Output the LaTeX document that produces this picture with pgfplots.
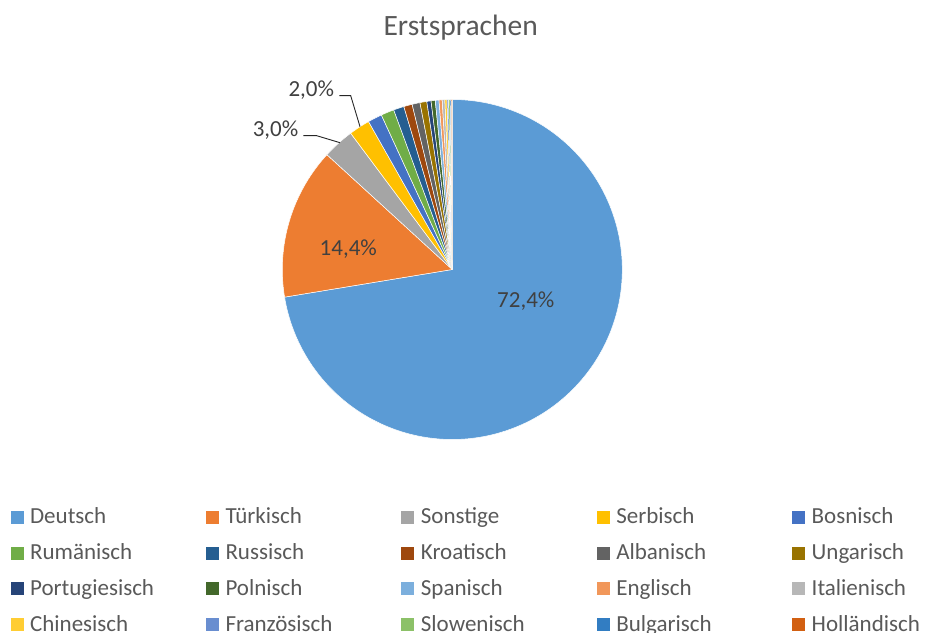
\documentclass[border=0pt]{standalone}
\usepackage{fontspec}
\setmainfont{Carlito}
\usepackage{pgfplots}
\pgfplotsset{compat=1.18}

\definecolor{cDeutsch}{HTML}{5B9BD5}
\definecolor{cTuerkisch}{HTML}{ED7D31}
\definecolor{cSonstige}{HTML}{A5A5A5}
\definecolor{cSerbisch}{HTML}{FFC000}
\definecolor{cBosnisch}{HTML}{4472C4}
\definecolor{cRumaenisch}{HTML}{70AD47}
\definecolor{cRussisch}{HTML}{255E91}
\definecolor{cKroatisch}{HTML}{9E480E}
\definecolor{cAlbanisch}{HTML}{636363}
\definecolor{cUngarisch}{HTML}{997300}
\definecolor{cPortugiesisch}{HTML}{264478}
\definecolor{cPolnisch}{HTML}{43682B}
\definecolor{cSpanisch}{HTML}{7CAFDD}
\definecolor{cEnglisch}{HTML}{F1975A}
\definecolor{cItalienisch}{HTML}{B7B7B7}
\definecolor{cChinesisch}{HTML}{FFCD33}
\definecolor{cFranzoesisch}{HTML}{698ED0}
\definecolor{cSlowenisch}{HTML}{8CC168}
\definecolor{cBulgarisch}{HTML}{327DC2}
\definecolor{cHollaendisch}{HTML}{D26012}
\definecolor{legtext}{HTML}{595959}
\definecolor{labtext}{HTML}{404040}

\newcommand\legfont{\fontsize{23pt}{27pt}\selectfont}
\newcommand\labfont{\fontsize{23pt}{27pt}\selectfont}
\newcommand\titfont{\fontsize{29.5pt}{33pt}\selectfont}

\gdef\cum{0}
% #1 colour, #2 percent, #3 legend text
\newcommand{\slice}[3]{%
  \pgfmathsetmacro\sa{\cum*3.6}%
  \pgfmathsetmacro\newcum{\cum+#2}%
  \pgfmathsetmacro\ea{\newcum*3.6}%
  \xdef\cum{\newcum}%
  \pgfmathtruncatemacro\ns{max(3,(\ea-\sa)/1.5+2)}%
  \edef\tmp{\noexpand\addplot[fill=#1, draw=white, line width=0.5pt, domain=\sa:\ea, samples=\ns]
    ({170*sin(x)},{170*cos(x)}) -- (axis cs:0,0) -- cycle;}%
  \tmp
  \addlegendentry{#3}%
}

\begin{document}
\begin{tikzpicture}
\path[use as bounding box] (0,0) rectangle (925pt,632pt);
\begin{axis}[
  at={(0pt,0pt)}, anchor=south west,
  x=1pt, y=1pt,
  xmin=-452.3, xmax=472.7, ymin=-362.5, ymax=269.5,
  hide axis, clip=false,
  legend columns=5,
  legend cell align=left,
  legend image code/.code={\fill[#1,draw=none] (0pt,-6.5pt) rectangle (13pt,6.5pt);},
  legend style={at={(axis cs:-441.7,-239.8)}, anchor=north west,
    draw=none, fill=none, inner sep=0pt, outer sep=0pt,
    font=\legfont, text=legtext, row sep=19.8pt,
    nodes={inner sep=0pt, outer sep=0pt},
    /tikz/every odd column/.append style={column sep=6.5pt},
    /tikz/every even column/.append style={column sep=0pt, text width=175.9pt, text height=14.5pt, text depth=0pt}},
]
\slice{cDeutsch}{72.4}{Deutsch}
\slice{cTuerkisch}{14.4}{Türkisch}
\slice{cSonstige}{3.0}{Sonstige}
\slice{cSerbisch}{2.0}{Serbisch}
\slice{cBosnisch}{1.35}{Bosnisch}
\slice{cRumaenisch}{1.25}{Rumänisch}
\slice{cRussisch}{1.0}{Russisch}
\slice{cKroatisch}{0.8}{Kroatisch}
\slice{cAlbanisch}{0.75}{Albanisch}
\slice{cUngarisch}{0.65}{Ungarisch}
\slice{cPortugiesisch}{0.4}{Portugiesisch}
\slice{cPolnisch}{0.4}{Polnisch}
\slice{cSpanisch}{0.35}{Spanisch}
\slice{cEnglisch}{0.3}{Englisch}
\slice{cItalienisch}{0.25}{Italienisch}
\slice{cChinesisch}{0.2}{Chinesisch}
\slice{cFranzoesisch}{0.15}{Französisch}
\slice{cSlowenisch}{0.15}{Slowenisch}
\slice{cBulgarisch}{0.1}{Bulgarisch}
\slice{cHollaendisch}{0.1}{Holländisch}

\node[font=\titfont, text=legtext, anchor=base] at (axis cs:8.4,233.5) {Erstsprachen};
\node[font=\labfont, text=labtext, anchor=base] at (axis cs:73.5,-37.8) {72,4\%};
\node[font=\labfont, text=labtext, anchor=base] at (axis cs:-104,13.5) {14,4\%};
\node[font=\labfont, text=labtext, anchor=base] at (axis cs:-176.8,132.8) {3,0\%};
\node[font=\labfont, text=labtext, anchor=base] at (axis cs:-141,172.8) {2,0\%};
\draw[black!85, line width=0.9pt] (axis cs:-149,133.8) -- (axis cs:-135.6,133.8) -- (axis cs:-112.3,126.8);
\draw[black!85, line width=0.9pt] (axis cs:-113,173.8) -- (axis cs:-101.6,173.8) -- (axis cs:-92.3,142.8);
\end{axis}
\end{tikzpicture}
\end{document}
